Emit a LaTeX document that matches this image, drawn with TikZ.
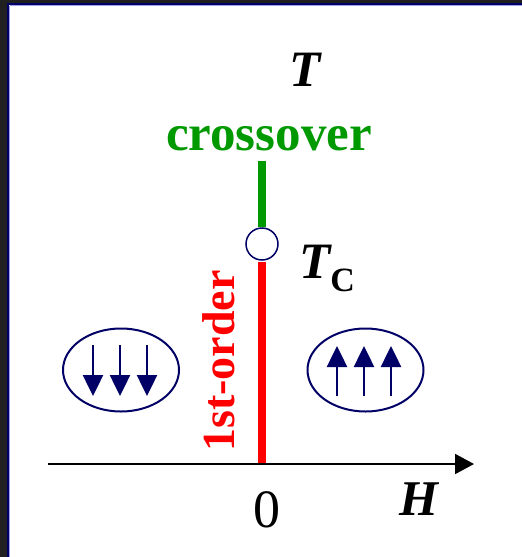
\documentclass[tikz,border=0pt]{standalone}
\usepackage{fontspec}
\setmainfont{Liberation Serif}
\usetikzlibrary{arrows.meta,shapes.geometric}
\definecolor{navy}{RGB}{0,0,102}
\definecolor{dgreen}{RGB}{0,153,0}
\definecolor{framegray}{RGB}{32,32,32}
\definecolor{lav}{RGB}{160,160,235}
\tikzset{
  axisline/.style={line width=2pt,-{Triangle[length=19pt,width=20pt]}},
  phaseline/.style={line width=8.5pt},
  spinbox/.style={ellipse,draw=navy,line width=2pt,minimum width=116pt,minimum height=83pt,inner sep=0pt},
  spinarrow/.style={navy,line width=2.5pt,-{Triangle[length=21pt,width=20pt]}},
  lbl/.style={inner sep=0pt,anchor=base},
}
\begin{document}
\begin{tikzpicture}[x=1pt,y=-1pt]
\useasboundingbox (0,0) rectangle (522,557);
\fill[white] (0,0) rectangle (522,557);
% slide frame
\fill[framegray] (0,0) rectangle (522,3);
\fill[framegray] (0,0) rectangle (7,557);
\fill[navy] (7,3) rectangle (522,5);
\fill[navy] (7,3) rectangle (9,557);
\draw[lav,line width=1pt] (9.5,5.5) -- (522,5.5);
\draw[lav,line width=1pt] (9.5,5.5) -- (9.5,557);
% critical point
\node[circle,draw=navy,line width=1.5pt,minimum size=32pt,inner sep=0pt] (tc) at (262,244) {};
\coordinate (gtop) at (262,161);
\coordinate (o) at (262,464);
\coordinate (axL) at (48,464);
\coordinate (axR) at (474,464);
\draw[phaseline,dgreen] (gtop) -- (tc.north);
\draw[phaseline,red,shorten <=1pt] (tc.south) -- (o);
\draw[axisline] (axL) -- (axR);
% labels
\node[lbl] (T) at (305,86) {\fontsize{51}{60}\selectfont\bfseries\itshape T};
\node[lbl,text=dgreen] (cross) at (269,150) {\fontsize{51}{60}\selectfont\bfseries crossover};
\node[lbl,anchor=base west] (tclbl) at (299,278) {\fontsize{51}{60}\selectfont\bfseries\itshape T\raisebox{-13pt}{\fontsize{34}{40}\selectfont\upshape C}};
\node[lbl,text=red,rotate=90] (first) at (234,361) {\fontsize{46}{55}\selectfont\bfseries 1st-order};
\node[lbl] (zero) at (267,527) {\fontsize{54}{60}\selectfont 0};
\node[lbl] (H) at (419,515) {\fontsize{50}{60}\selectfont\bfseries\itshape H};
% spin domains
\node[spinbox] (down) at (121,370) {};
\node[spinbox] (up) at (365.5,370) {};
\foreach \x in {93,120,147}{
  \draw[spinarrow] (\x,345) -- (\x,396);
}
\foreach \x in {337,364,391}{
  \draw[spinarrow] (\x,396) -- (\x,346);
}
\end{tikzpicture}
\end{document}
